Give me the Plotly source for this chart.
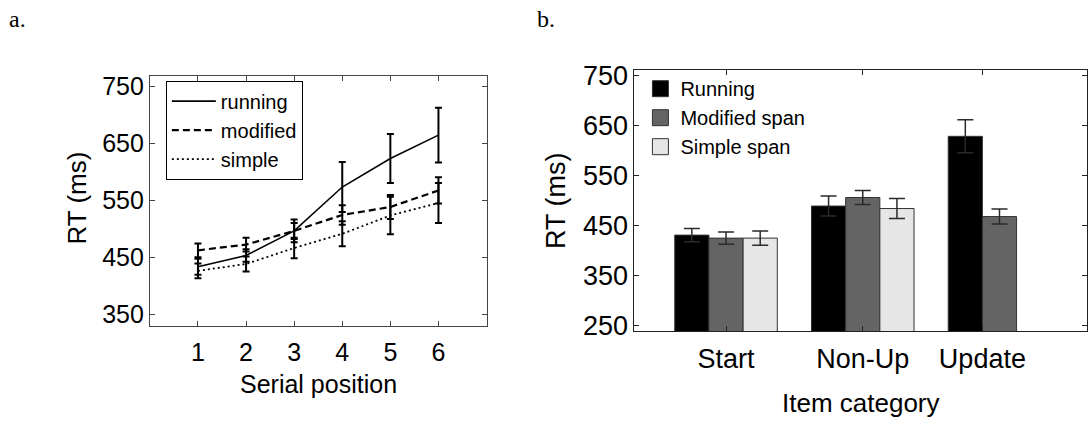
import plotly.graph_objects as go

# ---------------- data: panel a (line chart) ----------------
serial_pos = [1, 2, 3, 4, 5, 6]
running_rt = [433, 453, 496, 573, 623, 664]
running_err = [14, 11, 20, 44, 43, 48]
modified_rt = [462, 472, 496, 524, 538, 567]
modified_err = [12, 12, 14, 17, 21, 23]
simple_rt = [426, 438, 466, 491, 523, 545]
simple_err = [13, 13, 18, 22, 33, 35]

# ---------------- data: panel b (bar chart) ----------------
categories = ["Start", "Non-Up", "Update"]
cat_pos = [1, 2, 3]
cat_tick_pos = [1, 2, 2.875]
bar_running = [431, 489, 628]
bar_running_err = [13, 20, 33]
bar_modified = [425, 506, 468]
bar_modified_err = [12, 14, 15]
bar_simple = [425, 484, None]
bar_simple_err = [14, 20, None]

W, H = 1088, 424
SANS = "Liberation Sans, Arial, sans-serif"
SERIF = "Liberation Serif, Times New Roman, serif"

def px_x(p):
    return p / W

def px_y(p):
    return 1 - p / H

fig = go.Figure()

# panel a lines
line_specs = [
    ("running", running_rt, running_err, dict(color="black", width=1.6, dash="solid")),
    ("modified", modified_rt, modified_err, dict(color="black", width=2.2, dash="7px,4px")),
    ("simple", simple_rt, simple_err, dict(color="black", width=1.8, dash="2px,3px")),
]
for name, ys, es, ln in line_specs:
    fig.add_trace(go.Scatter(
        x=serial_pos, y=ys, name=name, mode="lines", line=ln,
        error_y=dict(type="data", array=es, color="black", thickness=2, width=3.5),
        xaxis="x", yaxis="y", legend="legend",
    ))

# panel b bars
bar_specs = [
    ("Running", bar_running, bar_running_err, "#000000"),
    ("Modified span", bar_modified, bar_modified_err, "#646464"),
    ("Simple span", bar_simple, bar_simple_err, "#e6e6e6"),
]
for name, ys, es, col in bar_specs:
    fig.add_trace(go.Bar(
        x=cat_pos, y=ys, name=name, showlegend=False,
        marker=dict(color=col, line=dict(color="#333333", width=1)),
        error_y=dict(type="data", array=es, color="#2a2a2a", thickness=1.5, width=8),
        xaxis="x2", yaxis="y2",
    ))
# legend swatches for panel b
for name, ys, es, col in bar_specs:
    fig.add_trace(go.Scatter(
        x=[None], y=[None], name=name, mode="markers",
        marker=dict(symbol="square", size=16, color=col, line=dict(color="#333333", width=1)),
        xaxis="x2", yaxis="y2", legend="legend2",
    ))

axis_common = dict(showline=True, mirror="allticks", ticks="inside", ticklen=5,
                   showgrid=False, zeroline=False)

fig.update_layout(
    width=W, height=H,
    margin=dict(l=0, r=0, t=0, b=0),
    paper_bgcolor="white", plot_bgcolor="white",
    font=dict(family=SANS, color="black"),
    barmode="group", bargap=0.25, bargroupgap=0,
    xaxis=dict(domain=[px_x(150), px_x(487)], range=[0, 7], tickvals=serial_pos,
               linecolor="#454545", tickcolor="#454545", tickfont=dict(size=25),
               ticklabelstandoff=4, anchor="y", **axis_common),
    yaxis=dict(domain=[px_y(332), px_y(70)], range=[329, 768],
               tickvals=[350, 450, 550, 650, 750],
               linecolor="#454545", tickcolor="#454545", tickfont=dict(size=25),
               anchor="x", **axis_common),
    xaxis2=dict(domain=[px_x(635), 1.0], range=[0.33, 3.64], tickvals=cat_tick_pos,
                ticktext=categories, linecolor="#222222", tickcolor="#222222",
                tickfont=dict(size=27), ticklabelstandoff=4, anchor="y2", **axis_common),
    yaxis2=dict(domain=[px_y(337), px_y(64)], range=[240, 760],
                tickvals=[250, 350, 450, 550, 650, 750],
                linecolor="#222222", tickcolor="#222222", tickfont=dict(size=27),
                anchor="x2", **axis_common),
    legend=dict(x=px_x(166), y=px_y(75), xanchor="left", yanchor="top",
                bordercolor="black", borderwidth=1, bgcolor="white",
                font=dict(size=20, family=SANS), itemwidth=44, tracegroupgap=0),
    legend2=dict(x=px_x(641), y=px_y(63), xanchor="left", yanchor="top",
                 borderwidth=0, bgcolor="rgba(0,0,0,0)",
                 font=dict(size=20, family=SANS), tracegroupgap=0),
    annotations=[
        dict(text="a.", x=px_x(7), y=px_y(26), xref="paper", yref="paper",
             xanchor="left", yanchor="bottom", showarrow=False,
             font=dict(family=SERIF, size=24)),
        dict(text="b.", x=px_x(535), y=px_y(26), xref="paper", yref="paper",
             xanchor="left", yanchor="bottom", showarrow=False,
             font=dict(family=SERIF, size=24)),
        dict(text="RT (ms)", x=px_x(77.5), y=px_y(198), xref="paper", yref="paper",
             xanchor="center", yanchor="middle", textangle=-90, showarrow=False,
             font=dict(size=26)),
        dict(text="Serial position", x=px_x(318.5), y=px_y(393), xref="paper", yref="paper",
             xanchor="center", yanchor="middle", showarrow=False, font=dict(size=25)),
        dict(text="RT (ms)", x=px_x(556.5), y=px_y(200), xref="paper", yref="paper",
             xanchor="center", yanchor="middle", textangle=-90, showarrow=False,
             font=dict(size=27)),
        dict(text="Item category", x=px_x(862), y=px_y(412), xref="paper", yref="paper",
             xanchor="center", yanchor="middle", showarrow=False, font=dict(size=26)),
    ],
)

fig.write_html("out.html")
